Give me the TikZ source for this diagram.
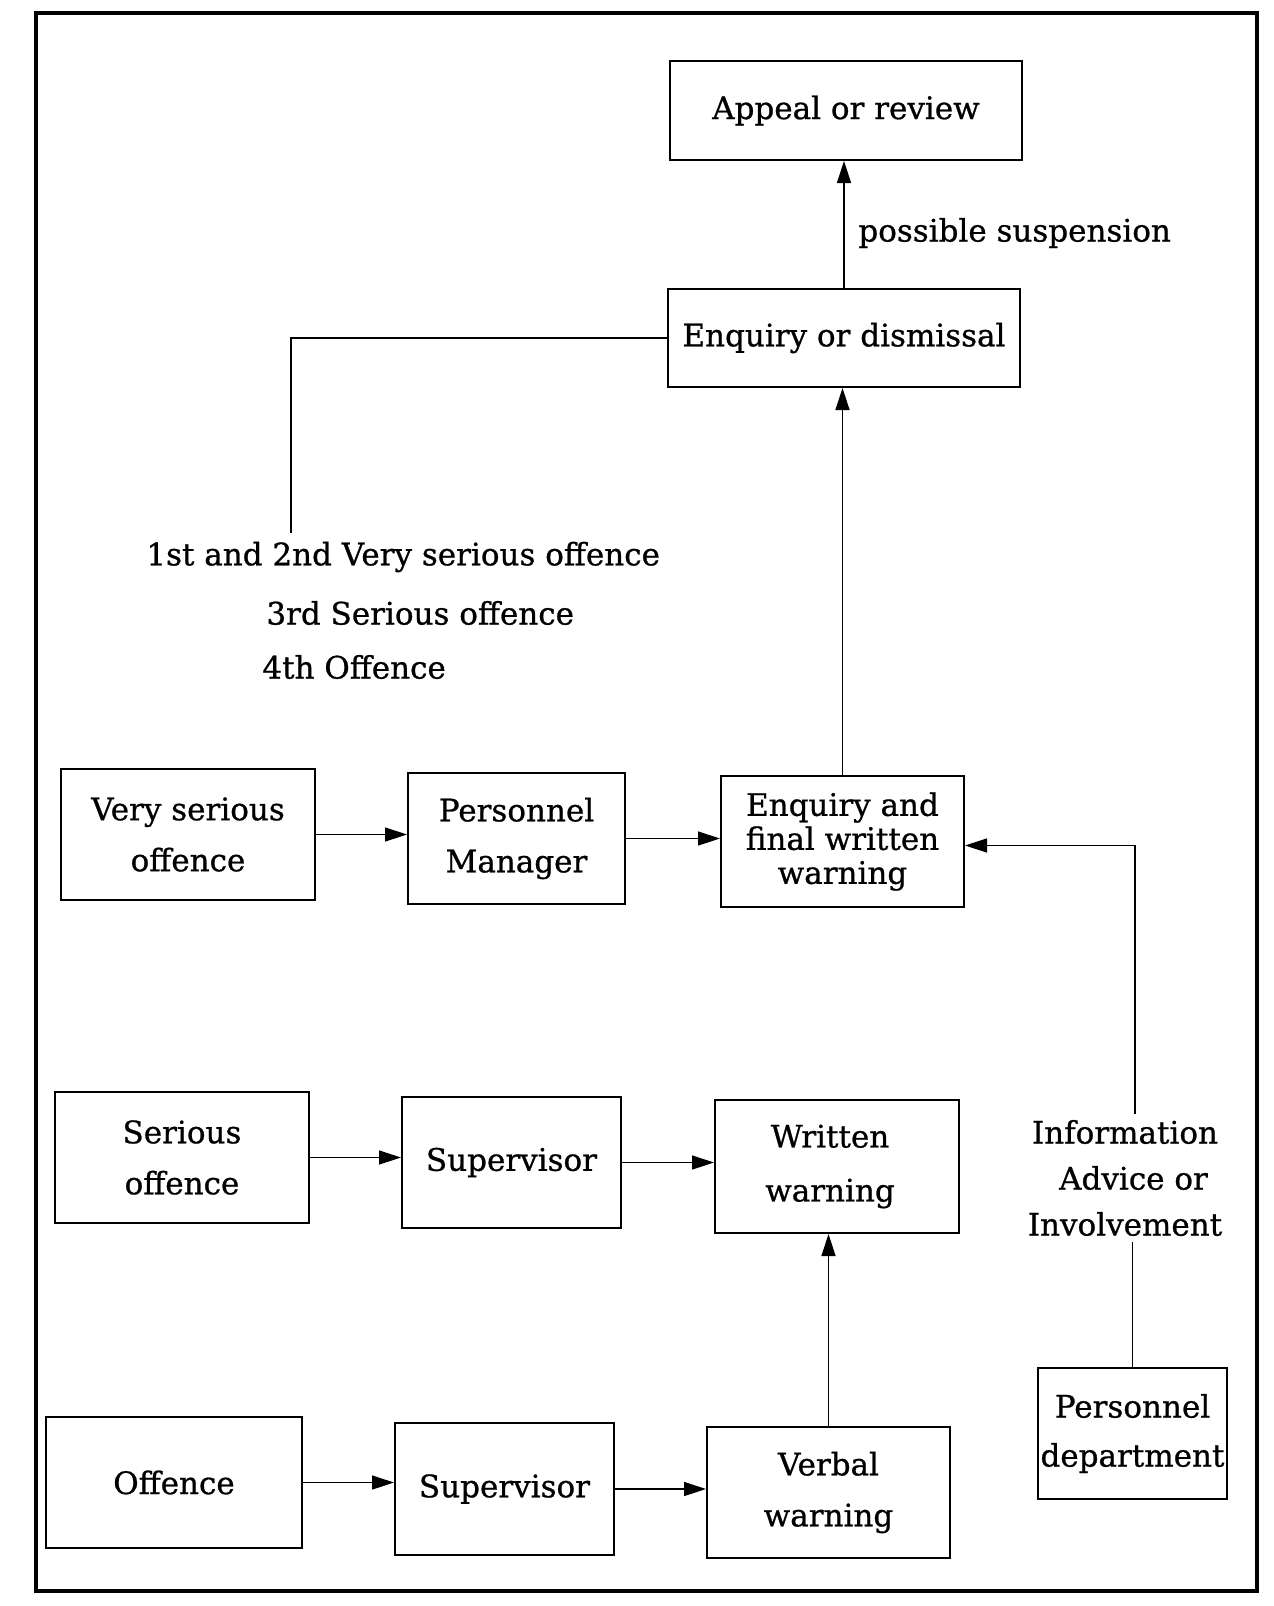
\documentclass[tikz,border=0pt]{standalone}
\usepackage{fontspec}
\setmainfont{DejaVu Serif}[FakeBold=0.8]
\usetikzlibrary{arrows.meta}
\begin{document}
\begin{tikzpicture}[x=0.5pt,y=-0.5pt,
  box/.style={draw,line width=1pt,align=center,inner sep=0pt,
    font=\fontsize{15.5}{25.5}\selectfont},
  lbl/.style={inner sep=0pt,font=\fontsize{15.5}{25.5}\selectfont},
  conn/.style={line width=0.7pt},
  arr/.style={line width=0.7pt,-{Triangle[length=11pt,width=7pt]}}]
\useasboundingbox (0,0) rectangle (1274,1606);
\draw[line width=1.6pt] (36,13) rectangle (1257,1591);
% boxes
\node[box,minimum width=176pt,minimum height=49.5pt] (appeal) at (846,110.5) {Appeal or review};
\node[box,minimum width=176pt,minimum height=49pt] (enqdis) at (844,338) {Enquiry or dismissal};
\node[box,minimum width=127pt,minimum height=65.5pt] (vso) at (188,834.5) {Very serious\\offence};
\node[box,minimum width=108.5pt,minimum height=65.5pt] (pm) at (516.5,838.5) {Personnel\\Manager};
\node[box,minimum width=121.5pt,minimum height=65.5pt,font=\fontsize{15.5}{17}\selectfont] (efw) at (842.5,841.5) {Enquiry and\\final written\\warning};
\node[box,minimum width=127pt,minimum height=65.5pt] (so) at (182,1157.5) {Serious\\offence};
\node[box,minimum width=109.5pt,minimum height=65.5pt] (supa) at (511.5,1162.5) {Supervisor};
\node[box,minimum width=122pt,minimum height=66.5pt,font=\fontsize{15.5}{27}\selectfont] (ww) at (837,1166.5) {Written\hspace*{0.45em}\\warning\hspace*{0.45em}};
\node[box,minimum width=128pt,minimum height=65.5pt] (off) at (174,1482.5) {Offence};
\node[box,minimum width=109.5pt,minimum height=66pt] (supb) at (504.5,1489) {Supervisor};
\node[box,minimum width=121.5pt,minimum height=65.5pt] (vw) at (828.5,1492.5) {Verbal\\warning};
\node[box,minimum width=94.5pt,minimum height=65.5pt,font=\fontsize{15.5}{24.5}\selectfont] (pd) at (1132.5,1433.5) {Personnel\\department};
% labels
\node[lbl,anchor=west] (susp) at (858,233) {possible suspension};
\node[lbl,anchor=west] (l1) at (146,557) {1st and 2nd Very serious offence};
\node[lbl,anchor=west] (l2) at (266,613) {3rd Serious offence};
\node[lbl,anchor=west] (l3) at (262,667) {4th Offence};
\node[lbl,align=center,font=\fontsize{15.5}{23}\selectfont] (info) at (1125,1178) {Information\\\hspace*{0.55em}Advice or\\Involvement};
\coordinate (bend) at (291,533);
\coordinate (infotop) at ([xshift=5pt,yshift=3pt]info.north);
\coordinate (infobot) at ([yshift=-3pt]info.south);
\coordinate (efwin) at ([yshift=-2pt]efw.east);
% connectors
\draw[arr] (enqdis.north) -- (enqdis.north |- appeal.south);
\draw[arr] (efw.north) -- (efw.north |- enqdis.south);
\draw[conn] (enqdis.west) -| (bend);
\draw[arr] (vso.east) -- (vso.east -| pm.west);
\draw[arr] (pm.east) -- (pm.east -| efw.west);
\draw[arr] (so.east) -- (so.east -| supa.west);
\draw[arr] (supa.east) -- (supa.east -| ww.west);
\draw[arr] (off.east) -- (off.east -| supb.west);
\draw[arr] (supb.east) -- (supb.east -| vw.west);
\draw[arr] (vw.north) -- (vw.north |- ww.south);
\draw[arr] (infotop) |- (efwin);
\draw[conn] (pd.north) -- (pd.north |- infobot);
\end{tikzpicture}
\end{document}
